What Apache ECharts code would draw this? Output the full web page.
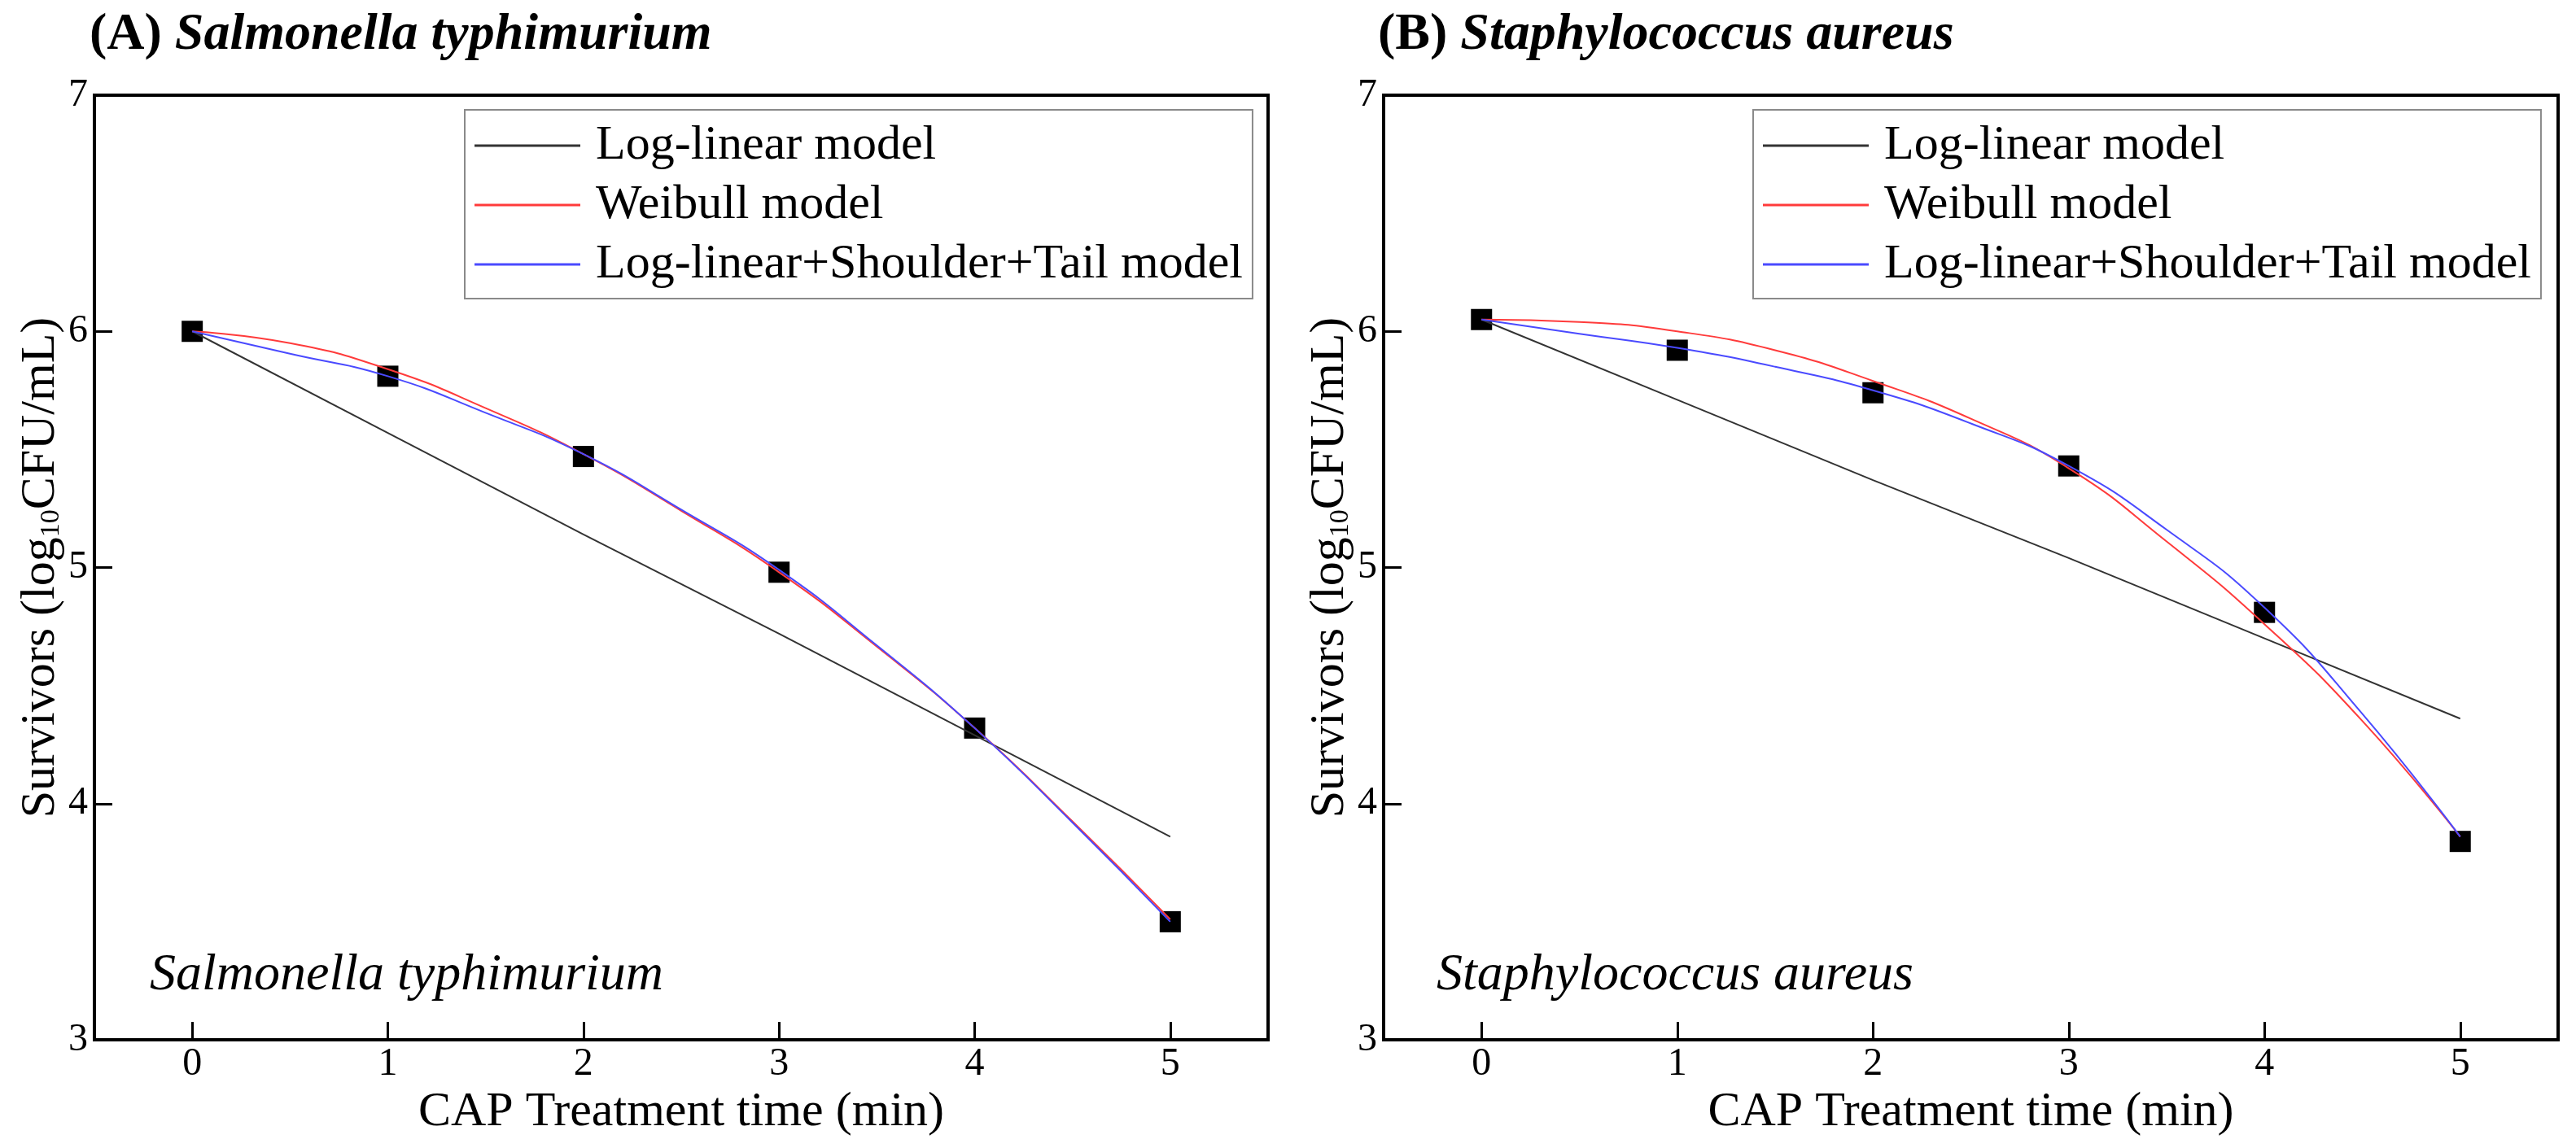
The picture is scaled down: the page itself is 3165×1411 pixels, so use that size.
<!DOCTYPE html>
<html>
<head>
<meta charset="utf-8">
<script src="https://cdn.jsdelivr.net/npm/echarts@6/dist/echarts.min.js"></script>
<style>
html,body{margin:0;padding:0;background:#fff;}
#chart{width:3165px;height:1411px;}
</style>
</head>
<body>
<div id="chart"></div>
<script>
// ---- data ----
const panelTitles = ['Salmonella typhimurium', 'Staphylococcus aureus'];
const panelLetters = ['(A) ', '(B) '];
const seriesNames = ['Log-linear model', 'Weibull model', 'Log-linear+Shoulder+Tail model'];
const xTicks = [0, 1, 2, 3, 4, 5];
const yTicks = [3, 4, 5, 6, 7];

const obsTime = [0, 1, 2, 3, 4, 5];
const curveTime = [0, 0.5, 1, 1.5, 2, 2.5, 3, 3.5, 4, 4.5, 5];

// Panel A: Salmonella typhimurium
const obsA = [6.00, 5.81, 5.47, 4.98, 4.32, 3.50];
const logLinA = [6.00, 5.57, 5.14, 4.72, 4.29, 3.86];
const weibullA = [6.00, 5.95, 5.84, 5.675, 5.48, 5.24, 4.98, 4.665, 4.32, 3.925, 3.51];
const lstA = [6.00, 5.905, 5.81, 5.655, 5.48, 5.245, 4.99, 4.67, 4.32, 3.92, 3.50];

// Panel B: Staphylococcus aureus
const obsB = [6.05, 5.92, 5.74, 5.43, 4.81, 3.84];
const logLinB = [6.05, 5.71, 5.37, 5.04, 4.70, 4.36];
const weibullB = [6.05, 6.04, 6.00, 5.92, 5.79, 5.63, 5.42, 5.11, 4.76, 4.35, 3.86];
const lstB = [6.05, 5.99, 5.93, 5.85, 5.75, 5.61, 5.43, 5.16, 4.83, 4.38, 3.86];

// ---- styling ----
const FONT = "'Liberation Serif', 'Times New Roman', serif";
const colors = ['#333333', '#ff3b3b', '#4a4aff'];

const pairs = (xs, ys) => xs.map((x, i) => [x, ys[i]]);

const panels = [
  {obs: obsA, lin: logLinA, wei: weibullA, lst: lstA},
  {obs: obsB, lin: logLinB, wei: weibullB, lst: lstB}
];
const gridLeft = [116, 1700];
const gridRight = [1607, 22];

const grids = [], xAxes = [], yAxes = [], series = [], titles = [], legends = [];

panels.forEach((p, i) => {
  grids.push({
    left: gridLeft[i], right: gridRight[i], top: 117, bottom: 133,
    show: true, borderColor: '#000', borderWidth: 4, backgroundColor: 'transparent'
  });
  xAxes.push({
    type: 'value', gridIndex: i, min: -0.5, max: 5.5, interval: 0.5,
    name: 'CAP Treatment time (min)', nameLocation: 'middle', nameGap: 52,
    nameTextStyle: {fontFamily: FONT, fontSize: 60, color: '#000'},
    axisLine: {show: true, onZero: false, lineStyle: {color: '#000', width: 4}},
    axisTick: {show: true, inside: true, length: 22, customValues: xTicks, lineStyle: {color: '#000', width: 3}},
    axisLabel: {show: true, margin: 6, fontFamily: FONT, fontSize: 48, color: '#000', customValues: xTicks,
      formatter: v => (Number.isInteger(v) && v >= 0 && v <= 5) ? String(v) : ''},
    splitLine: {show: false}
  });
  yAxes.push({
    type: 'value', gridIndex: i, min: 3, max: 7, interval: 1,
    name: '{a|Survivors (log}{s|10}{a|CFU/mL)}', nameLocation: 'middle', nameGap: 36,
    nameTextStyle: {
      rich: {
        a: {fontFamily: FONT, fontSize: 60, lineHeight: 60, color: '#000', verticalAlign: 'top'},
        s: {fontFamily: FONT, fontSize: 34, lineHeight: 34, color: '#000', verticalAlign: 'bottom', padding: [32, 0, 0, 0]}
      }
    },
    axisLine: {show: true, onZero: false, lineStyle: {color: '#000', width: 4}},
    axisTick: {show: true, inside: true, length: 22, lineStyle: {color: '#000', width: 3}},
    axisLabel: {show: true, margin: 8, fontFamily: FONT, fontSize: 48, color: '#000'},
    splitLine: {show: false}
  });
  series.push({
    type: 'scatter', name: 'Observed', xAxisIndex: i, yAxisIndex: i,
    data: pairs(obsTime, p.obs), symbol: 'rect', symbolSize: 26,
    itemStyle: {color: '#000', opacity: 1}, z: 2, silent: true
  });
  series.push({
    type: 'line', name: seriesNames[0], xAxisIndex: i, yAxisIndex: i,
    data: pairs(obsTime, p.lin), symbol: 'none', showSymbol: false, smooth: false,
    lineStyle: {color: colors[0], width: 2}, itemStyle: {color: colors[0]}, z: 3
  });
  series.push({
    type: 'line', name: seriesNames[1], xAxisIndex: i, yAxisIndex: i,
    data: pairs(curveTime, p.wei), symbol: 'none', showSymbol: false, smooth: 0.5,
    lineStyle: {color: colors[1], width: 2}, itemStyle: {color: colors[1]}, z: 4
  });
  series.push({
    type: 'line', name: seriesNames[2], xAxisIndex: i, yAxisIndex: i,
    data: pairs(curveTime, p.lst), symbol: 'none', showSymbol: false, smooth: 0.5,
    lineStyle: {color: colors[2], width: 2}, itemStyle: {color: colors[2]}, z: 5
  });
  titles.push({
    text: '{n|' + panelLetters[i] + '}{it|' + panelTitles[i] + '}',
    left: [110, 1693][i], top: 11, padding: 0,
    textStyle: {
      rich: {
        n: {fontFamily: FONT, fontSize: 64, fontWeight: 'bold', color: '#000'},
        it: {fontFamily: FONT, fontSize: 64, fontWeight: 'bold', fontStyle: 'italic', color: '#000'}
      }
    }
  });
  titles.push({
    text: panelTitles[i], left: [184, 1765][i], top: 1167, padding: 0,
    textStyle: {fontFamily: FONT, fontSize: 64, fontStyle: 'italic', fontWeight: 'normal', color: '#000'}
  });
  legends.push({
    data: seriesNames, orient: 'vertical', left: [571, 2154][i], top: 135,
    padding: [14, 12, 12, 12], itemGap: 13, itemWidth: 130, itemHeight: 3,
    icon: 'rect',
    borderColor: '#8a8a8a', borderWidth: 2, backgroundColor: 'transparent',
    selectedMode: false,
    textStyle: {fontFamily: FONT, fontSize: 60, color: '#000', padding: [0, 0, 0, 14]}
  });
});

const chart = echarts.init(document.getElementById('chart'), null, {renderer: 'canvas'});
chart.setOption({
  backgroundColor: '#fff',
  animation: false,
  title: titles,
  legend: legends,
  grid: grids,
  xAxis: xAxes,
  yAxis: yAxes,
  series: series
});
</script>
</body>
</html>
